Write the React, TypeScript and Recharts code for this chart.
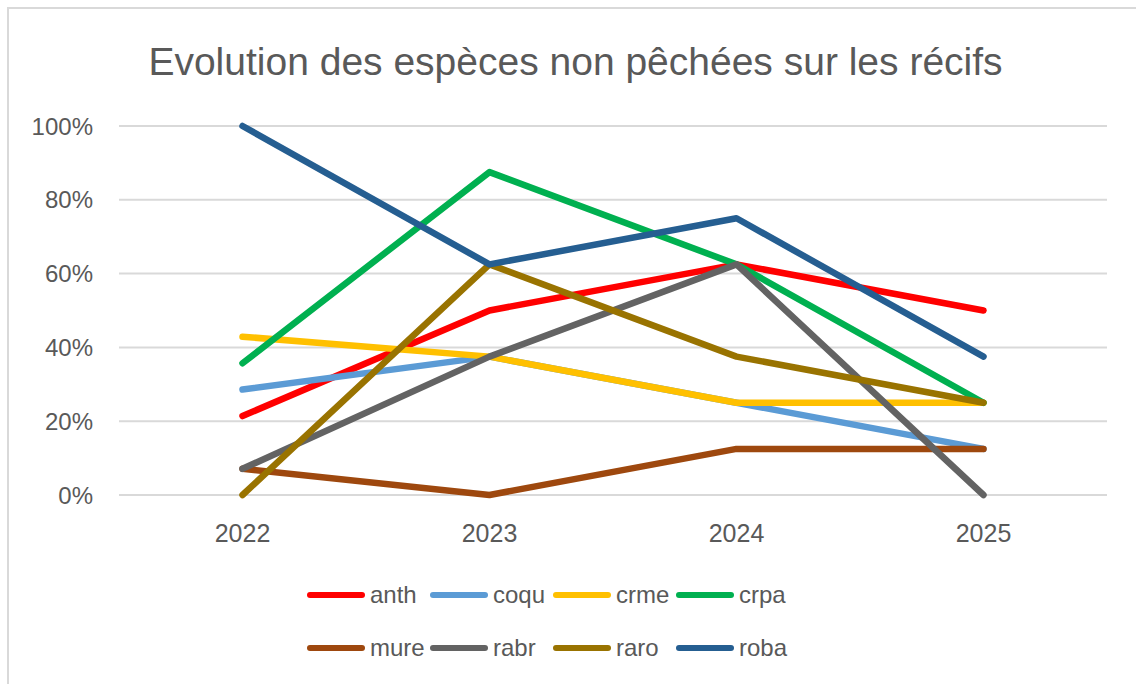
import { LineChart, Line, XAxis, YAxis, CartesianGrid } from "recharts"

const years = ["2022", "2023", "2024", "2025"]
const yTicks = [0, 0.2, 0.4, 0.6, 0.8, 1]

const anth = [0.214, 0.5, 0.625, 0.5]
const coqu = [0.286, 0.375, 0.25, 0.125]
const crme = [0.429, 0.375, 0.25, 0.25]
const crpa = [0.357, 0.875, 0.625, 0.25]
const mure = [0.071, 0, 0.125, 0.125]
const rabr = [0.071, 0.375, 0.625, 0]
const raro = [0, 0.625, 0.375, 0.25]
const roba = [1, 0.625, 0.75, 0.375]

const series = [
  { key: "anth", color: "#FF0000", values: anth },
  { key: "coqu", color: "#5B9BD5", values: coqu },
  { key: "crme", color: "#FFC000", values: crme },
  { key: "crpa", color: "#00B050", values: crpa },
  { key: "mure", color: "#9E480E", values: mure },
  { key: "rabr", color: "#636363", values: rabr },
  { key: "raro", color: "#997300", values: raro },
  { key: "roba", color: "#255E91", values: roba },
]

const data = years.map((year, i) => {
  const row: Record<string, string | number> = { year }
  series.forEach((s) => {
    row[s.key] = s.values[i]
  })
  return row
})

const font = "'Liberation Sans', Arial, sans-serif"
const textColor = "#595959"

function ChartLegend() {
  const rows = [series.slice(0, 4), series.slice(4)]
  return (
    <div style={{ position: "absolute", left: 307, top: 580, fontFamily: font }}>
      {rows.map((row, r) => (
        <div key={r} style={{ display: "flex", height: 53 }}>
          {row.map((s) => (
            <div key={s.key} style={{ display: "flex", alignItems: "center", width: 123, height: 30 }}>
              <div
                style={{
                  width: 58,
                  height: 6.5,
                  borderRadius: 3.25,
                  background: s.color,
                  marginRight: 5,
                }}
              />
              <span style={{ fontSize: 24, color: textColor }}>{s.key}</span>
            </div>
          ))}
        </div>
      ))}
    </div>
  )
}

export default function App() {
  return (
    <div
      style={{
        position: "absolute",
        left: 0,
        top: 0,
        width: 1136,
        height: 684,
        overflow: "hidden",
        background: "#fff",
        fontFamily: font,
      }}
    >
      <div
        style={{
          position: "absolute",
          left: 7,
          top: 7,
          width: 1300,
          height: 800,
          border: "2px solid #d9d9d9",
        }}
      />
      <div
        style={{
          position: "absolute",
          left: 575.5,
          top: 42,
          transform: "translateX(-50%)",
          whiteSpace: "nowrap",
          fontSize: 39,
          lineHeight: 1,
          color: textColor,
        }}
      >
        Evolution des espèces non pêchées sur les récifs
      </div>
      <div style={{ position: "absolute", left: 0, top: 0 }}>
        <LineChart
          width={1136}
          height={684}
          data={data}
          margin={{ top: 126, right: 29, bottom: 159, left: 0 }}
        >
          <CartesianGrid vertical={false} stroke="#d9d9d9" strokeWidth={2} />
          <XAxis
            dataKey="year"
            axisLine={false}
            tickLine={false}
            padding={{ left: 123.5, right: 123.5 }}
            tickMargin={23}
            height={30}
            tick={{ fill: textColor, fontSize: 25, fontFamily: font }}
          />
          <YAxis
            domain={[0, 1]}
            ticks={yTicks}
            axisLine={false}
            tickLine={false}
            width={119}
            tickMargin={20}
            tickFormatter={(v: number) => `${Math.round(v * 100)}%`}
            tick={{ fill: textColor, fontSize: 24, fontFamily: font }}
          />
          {series.map((s) => (
            <Line
              key={s.key}
              type="linear"
              dataKey={s.key}
              stroke={s.color}
              strokeWidth={6.5}
              strokeLinecap="round"
              strokeLinejoin="round"
              dot={false}
              activeDot={false}
              isAnimationActive={false}
            />
          ))}
        </LineChart>
      </div>
      <ChartLegend />
    </div>
  )
}
